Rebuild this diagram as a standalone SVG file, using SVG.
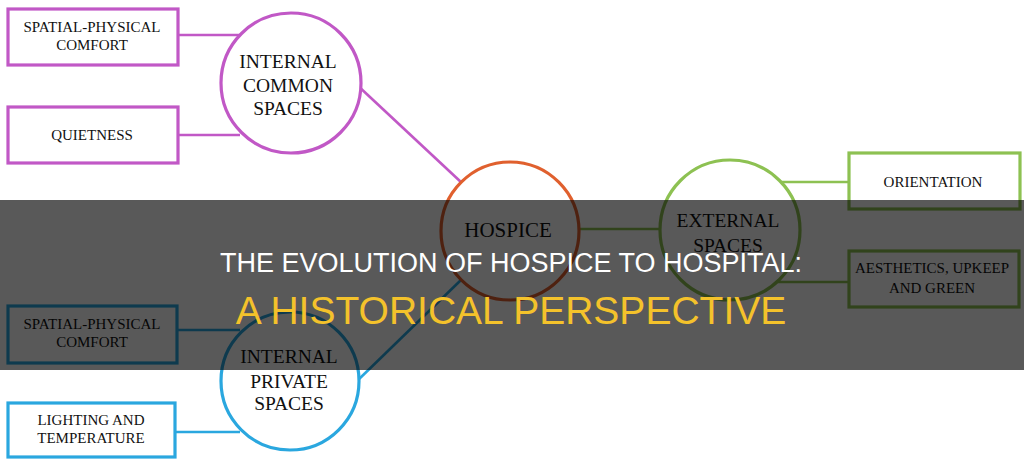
<svg xmlns="http://www.w3.org/2000/svg" width="1024" height="467" viewBox="0 0 1024 467">
<style>
.bg{fill:#ffffff}
.t{font-family:"Liberation Serif","Times New Roman",serif;fill:#111;text-anchor:middle}
.bt{font-size:15px}
.ct{font-size:19.5px}
.pur{stroke:#c158c6}
.org{stroke:#e0602e}
.grn{stroke:#8dc152}
.blu{stroke:#2aa7df}
.node{fill:#fff;stroke-width:3.2}
.con{fill:none;stroke-width:2.6}
.title{font-family:"Liberation Sans",Arial,sans-serif;text-anchor:middle}
</style>
<rect class="bg" x="0" y="0" width="1024" height="467"/>
<g id="connectors">
<line class="con pur" x1="178" y1="35" x2="240" y2="35"/>
<line class="con pur" x1="178" y1="135" x2="240" y2="135"/>
<line class="con pur" x1="356" y1="84" x2="462" y2="183"/>
<line class="con grn" x1="580" y1="229" x2="661" y2="229"/>
<line class="con grn" x1="780" y1="182" x2="848" y2="182"/>
<line class="con grn" x1="770" y1="282" x2="848" y2="282"/>
<line class="con blu" x1="177" y1="330" x2="240" y2="330"/>
<line class="con blu" x1="175" y1="432" x2="240" y2="432"/>
<line class="con blu" x1="356" y1="382" x2="462" y2="279"/>
</g>
<g id="box-spatial-common">
<rect class="node pur" x="8" y="9" width="170" height="56"/>
<text class="t bt" x="92" y="32">SPATIAL-PHYSICAL</text>
<text class="t bt" x="92" y="50">COMFORT</text>
</g>
<g id="box-quietness">
<rect class="node pur" x="8" y="107" width="170" height="56"/>
<text class="t bt" x="92" y="140">QUIETNESS</text>
</g>
<g id="circle-internal-common">
<circle class="node pur" cx="291" cy="83" r="70"/>
<text class="t ct" x="288" y="68">INTERNAL</text>
<text class="t ct" x="288" y="92">COMMON</text>
<text class="t ct" x="288" y="115">SPACES</text>
</g>
<g id="circle-hospice">
<circle class="node org" cx="510" cy="231" r="69"/>
<text class="t" x="508" y="237" font-size="21">HOSPICE</text>
</g>
<g id="circle-external">
<circle class="node grn" cx="730" cy="230" r="70"/>
<text class="t ct" x="728" y="227">EXTERNAL</text>
<text class="t ct" x="728" y="252">SPACES</text>
</g>
<g id="box-orientation">
<rect class="node grn" x="849" y="153" width="171" height="56"/>
<text class="t bt" x="933" y="187">ORIENTATION</text>
</g>
<g id="box-aesthetics">
<rect class="node grn" x="849" y="251" width="170" height="56"/>
<text class="t bt" x="932" y="273">AESTHETICS, UPKEEP</text>
<text class="t bt" x="932" y="293">AND GREEN</text>
</g>
<g id="box-spatial-private">
<rect class="node blu" x="8" y="306" width="169" height="57"/>
<text class="t bt" x="92" y="329">SPATIAL-PHYSICAL</text>
<text class="t bt" x="92" y="347">COMFORT</text>
</g>
<g id="box-lighting">
<rect class="node blu" x="8" y="403" width="167" height="54"/>
<text class="t bt" x="91" y="425">LIGHTING AND</text>
<text class="t bt" x="91" y="443">TEMPERATURE</text>
</g>
<g id="circle-internal-private">
<circle class="node blu" cx="290" cy="381" r="69"/>
<text class="t ct" x="289" y="363">INTERNAL</text>
<text class="t ct" x="289" y="388">PRIVATE</text>
<text class="t ct" x="289" y="410">SPACES</text>
</g>
<g id="banner">
<rect x="0" y="200" width="1024" height="170" fill="#000" fill-opacity="0.65"/>
<text class="title" x="511" y="272" font-size="27" fill="#ffffff">THE EVOLUTION OF HOSPICE TO HOSPITAL:</text>
<text class="title" x="511" y="324" font-size="39" fill="#f4c22b">A HISTORICAL PERSPECTIVE</text>
</g>
</svg>
